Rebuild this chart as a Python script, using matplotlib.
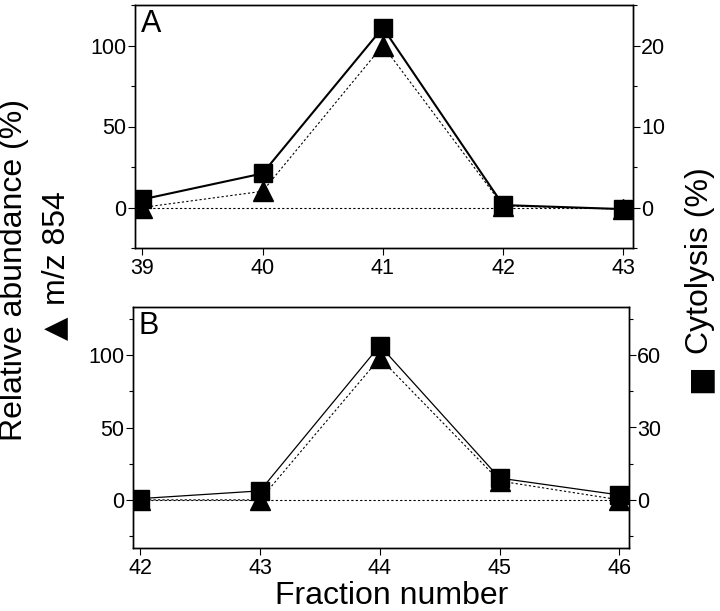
import numpy as np
import matplotlib
matplotlib.use("Agg")
import matplotlib.pyplot as plt
from matplotlib.ticker import MultipleLocator

plt.rcParams['font.family'] = ['Liberation Sans', 'DejaVu Sans']

# ======================
# Data
# ======================
frac_a = [39, 40, 41, 42, 43]
mz_a = [0, 10, 100, 1, -1]          # relative abundance m/z 854 (%)
cyto_a = [1, 4.2, 22.2, 0.3, -0.2]   # cytolysis (%)

frac_b = [42, 43, 44, 45, 46]
mz_b = [0, 0, 98, 13, 0]
cyto_b = [0.5, 3.7, 64, 9, 2]

fig = plt.figure(figsize=(7.2, 6.11), dpi=100)
W, H = 720, 611

def make_panel(box, frac, mz, cyto, ylim_l, ylim_r, rmaj, rmin, letter, lw_solid):
    x0, y0, x1, y1 = box
    ax = fig.add_axes([x0 / W, 1 - y1 / H, (x1 - x0) / W, (y1 - y0) / H])
    ax2 = ax.twinx()
    ax.set_xlim(frac[0] - 0.06, frac[-1] + 0.08)
    ax.set_ylim(*ylim_l)
    ax2.set_ylim(*ylim_r)
    ax.axhline(0, color="black", lw=0.8, ls=(0, (2, 2)), zorder=1)
    ax.plot(frac, mz, color="black", lw=0.8, ls=(0, (2, 2)), marker="^",
            markersize=15, zorder=3)
    ax2.plot(frac, cyto, color="black", lw=lw_solid, ls="-", marker="s",
             markersize=13, zorder=4)
    ax.set_xticks(frac)
    ax.yaxis.set_major_locator(MultipleLocator(50))
    ax.yaxis.set_minor_locator(MultipleLocator(25))
    ax2.yaxis.set_major_locator(MultipleLocator(rmaj))
    ax2.yaxis.set_minor_locator(MultipleLocator(rmin))
    for a in (ax, ax2):
        a.tick_params(labelsize=15.5, length=5, width=0.8, direction="out")
        a.tick_params(which="minor", length=3, width=0.8)
        for s in a.spines.values():
            s.set_linewidth(1.0)
    ax.tick_params(axis="y", pad=1)
    ax2.tick_params(axis="y", pad=1)
    ax.tick_params(axis="x", pad=2)
    ax.text(0.012, 0.985, letter, transform=ax.transAxes, fontsize=22,
            va="top", ha="left")
    return ax, ax2

make_panel((135, 5, 633, 248), frac_a, mz_a, cyto_a, (-25, 125), (-5, 25),
           10, 5, "A", 1.5)
make_panel((133, 307, 629, 548), frac_b, mz_b, cyto_b, (-33.3, 133.3), (-20, 80),
           30, 15, "B", 0.9)

fig.text(14 / W, 1 - 270 / H, "Relative abundance (%)", rotation=90,
         fontsize=23, ha="center", va="center")
fig.text(57 / W, 1 - 248 / H, "m/z 854", rotation=90,
         fontsize=23, ha="center", va="center")
fig.text(57 / W, 1 - 328 / H, "\u25b2", rotation=90, family="DejaVu Sans",
         fontsize=22, ha="center", va="center")
fig.text(700 / W, 1 - 261 / H, "Cytolysis (%)", rotation=90,
         fontsize=23, ha="center", va="center")
fig.text(700 / W, 1 - 379 / H, "\u25a0", rotation=90, family="DejaVu Sans",
         fontsize=22, ha="center", va="center")
fig.text(392 / W, 1 - 596 / H, "Fraction number", fontsize=23,
         ha="center", va="center")

fig.savefig("out.png", dpi=100)
